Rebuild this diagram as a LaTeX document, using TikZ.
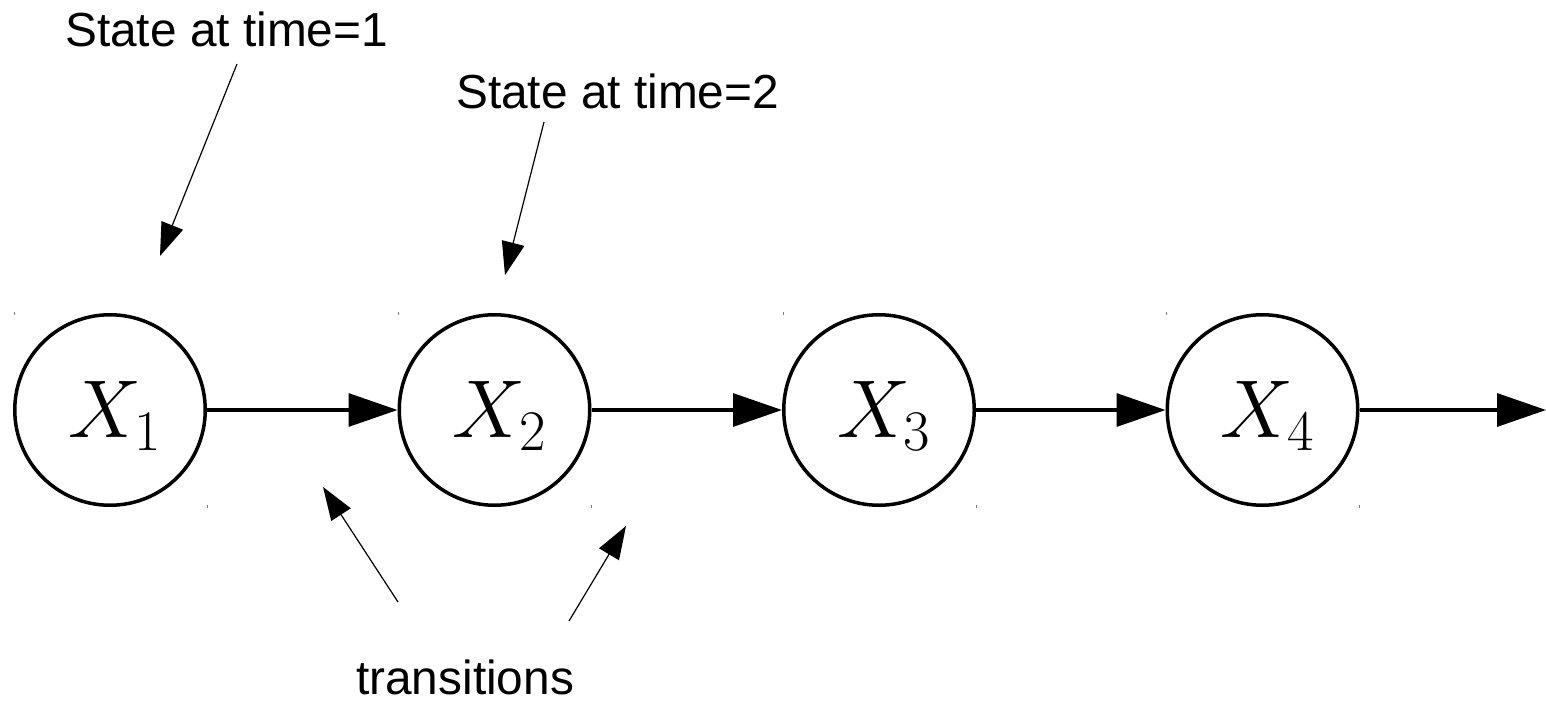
\RequirePackage{fix-cm}
\documentclass[tikz,border=0pt]{standalone}
\usepackage{fontspec}
\setmainfont{Liberation Sans}
\usetikzlibrary{arrows.meta}
\begin{document}
\begin{tikzpicture}[x=1pt,y=-1pt,
  state/.style={draw,circle,line width=3.5pt,minimum size=190.5pt,inner sep=0pt},
  mathlbl/.style={inner sep=0pt,font=\fontsize{82}{98}\selectfont},
  txt/.style={inner sep=0pt,anchor=base west,font=\fontsize{47.8}{57}\selectfont},
  flow/.style={line width=3.3pt,-{Triangle[length=49pt,width=33pt]}},
  pointer/.style={line width=1.2pt,-{Triangle[length=33pt,width=23pt]}},
  tick/.style={line width=1pt,gray}]
\useasboundingbox (0,0) rectangle (1546,701);
% states
\node[state] (x1) at (110,410) {};
\node[state] (x2) at (494.5,410) {};
\node[state] (x3) at (879,410) {};
\node[state] (x4) at (1262.5,410) {};
\node[mathlbl] (l1) at ([xshift=5pt,yshift=-6pt]x1.center) {$X_1$};
\node[mathlbl] (l2) at ([xshift=5pt,yshift=-6pt]x2.center) {$X_2$};
\node[mathlbl] (l3) at ([xshift=5pt,yshift=-6pt]x3.center) {$X_3$};
\node[mathlbl] (l4) at ([xshift=5pt,yshift=-6pt]x4.center) {$X_4$};
\coordinate (out) at (1546,410);
% transitions
\draw[flow] (x1) -- (x2);
\draw[flow] (x2) -- (x3);
\draw[flow] (x3) -- (x4);
\draw[flow] (x4) -- (out);
% corner ticks
\foreach \cx in {110,494.5,879,1262.5}{
  \draw[tick] (\cx-96,312) -- (\cx-96,315);
  \draw[tick] (\cx+97,505) -- (\cx+97,508);
}
% labels
\node[txt] (s1) at (65,47) {State at time=1};
\node[txt] (s2) at (456,108) {State at time=2};
\node[txt] (tr) at (356,694) {transitions};
% pointers
\coordinate (p1a) at (237,64);  \coordinate (p1b) at (160,256);
\coordinate (p2a) at (544,122); \coordinate (p2b) at (505,275);
\coordinate (p3a) at (398,602); \coordinate (p3b) at (323,487);
\coordinate (p4a) at (569,621); \coordinate (p4b) at (626,526);
\draw[pointer] (p1a) -- (p1b);
\draw[pointer] (p2a) -- (p2b);
\draw[pointer] (p3a) -- (p3b);
\draw[pointer] (p4a) -- (p4b);
\end{tikzpicture}
\end{document}
